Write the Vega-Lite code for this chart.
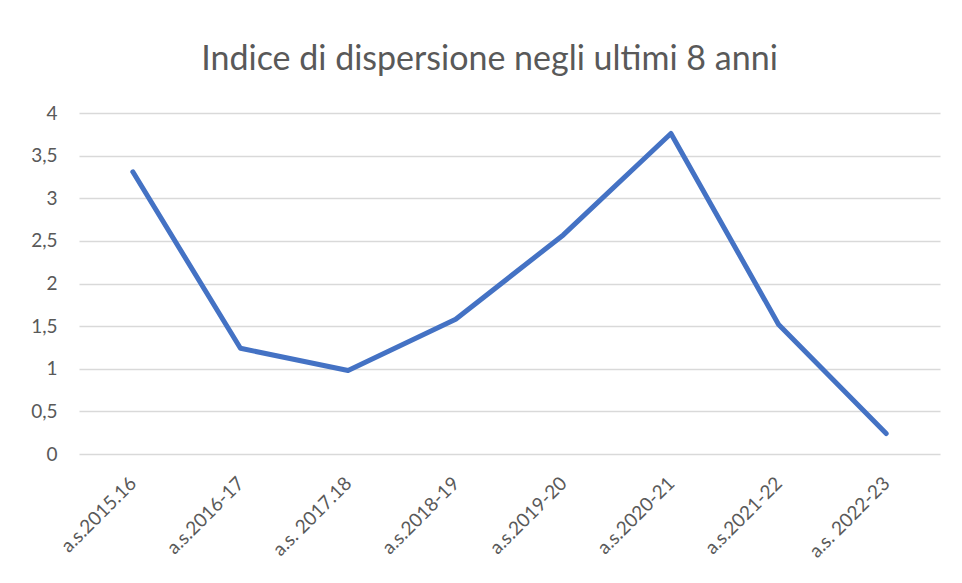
{
  "$schema": "https://vega.github.io/schema/vega-lite/v6.json",
  "width": 861,
  "height": 341,
  "autosize": {"type": "none"},
  "padding": {"left": 79, "top": 113, "right": 22, "bottom": 129},
  "background": "white",
  "title": {
    "text": "Indice di dispersione negli ultimi 8 anni",
    "font": "Lato",
    "fontSize": 34,
    "fontWeight": "normal",
    "color": "#595959",
    "anchor": "middle",
    "dx": -20,
    "offset": 27
  },
  "data": {
    "values": [
      {"anno": "a.s.2015.16", "valore": 3.31},
      {"anno": "a.s.2016-17", "valore": 1.24},
      {"anno": "a.s. 2017.18", "valore": 0.98},
      {"anno": "a.s.2018-19", "valore": 1.58},
      {"anno": "a.s.2019-20", "valore": 2.57},
      {"anno": "a.s.2020-21", "valore": 3.76},
      {"anno": "a.s.2021-22", "valore": 1.52},
      {"anno": "a.s. 2022-23", "valore": 0.24}
    ]
  },
  "mark": {"type": "line", "color": "#4472C4", "strokeWidth": 5, "strokeCap": "round", "strokeJoin": "round"},
  "encoding": {
    "x": {
      "field": "anno",
      "type": "ordinal",
      "sort": null,
      "scale": {"type": "point", "padding": 0.5},
      "axis": {
        "title": null,
        "labelAngle": -45,
        "labelAlign": "right",
        "labelBaseline": "middle",
        "labelFont": "Lato",
        "labelFontSize": 19,
        "labelColor": "#595959",
        "labelPadding": 26,
        "ticks": false,
        "domain": false,
        "grid": false
      }
    },
    "y": {
      "field": "valore",
      "type": "quantitative",
      "scale": {"domain": [0, 4], "nice": false},
      "axis": {
        "title": null,
        "values": [0, 0.5, 1, 1.5, 2, 2.5, 3, 3.5, 4],
        "labelExpr": "replace(format(datum.value, '~g'), '.', ',')",
        "labelFont": "Lato",
        "labelFontSize": 19,
        "labelColor": "#595959",
        "labelPadding": 22,
        "ticks": false,
        "domain": false,
        "grid": true,
        "gridColor": "#d9d9d9",
        "gridWidth": 1.5
      }
    }
  },
  "config": {"view": {"stroke": null}}
}
